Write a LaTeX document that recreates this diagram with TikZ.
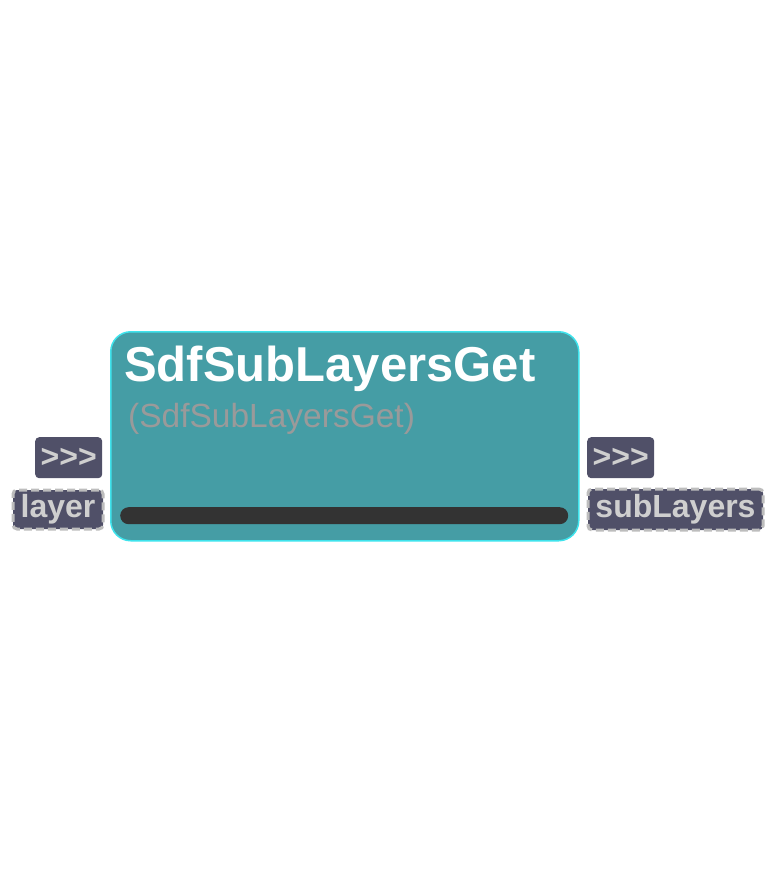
\documentclass[tikz,border=0pt]{standalone}
\usepackage{fontspec}
\setmainfont{Liberation Sans}
\usetikzlibrary{positioning}

\definecolor{nodeteal}{HTML}{459DA5}
\definecolor{nodeedge}{HTML}{3FE3EC}
\definecolor{pinfill}{HTML}{505068}
\definecolor{pintext}{HTML}{CFCFCF}
\definecolor{pinedge}{HTML}{BDBDBD}
\definecolor{subtext}{HTML}{9A9A9A}
\definecolor{barcolor}{HTML}{333333}

\begin{document}
\begin{tikzpicture}
[
	x=1pt, y=-1pt,
	nodebox/.style={draw=nodeedge,fill=nodeteal,line width=1.5pt,rounded corners=20pt,anchor=north west,inner sep=0pt},
	pinbox/.style={fill=pinfill,rounded corners=4pt,inner sep=0pt,anchor=north west,text=pintext,font=\bfseries\fontsize{32}{32}\selectfont},
	pinlabel/.style={pinbox,draw=pinedge,dash pattern=on 8pt off 4pt,line width=3pt},
]

	\useasboundingbox (0,0) rectangle (775,875);

	% node body
	\node[nodebox,minimum width=468pt,minimum height=209pt] (body) at (110,331) {};
	\node[anchor=base west,inner sep=0pt,text=white,font=\bfseries\fontsize{49}{49}\selectfont] (title) at (124,381) {SdfSubLayersGet};
	\node[anchor=base west,inner sep=0pt,text=subtext,font=\fontsize{33.5}{33.5}\selectfont] (subtitle) at (128,427) {(SdfSubLayersGet)};
	\node[fill=barcolor,rounded corners=8.5pt,anchor=north west,inner sep=0pt,minimum width=448pt,minimum height=17pt] (bar) at (120,507) {};

	% input pins
	\node[pinbox,minimum width=67pt,minimum height=41pt] (inexec) at (35,437) {>{}>{}>};
	\node[pinlabel,minimum width=90pt,minimum height=39pt] (layer) at (11.5,488.5) {layer};

	% output pins
	\node[pinbox,minimum width=67pt,minimum height=41pt] (outexec) at (587,437) {>{}>{}>};
	\node[pinlabel,minimum width=175pt,minimum height=41pt] (subLayers) at (586.5,487.5) {subLayers};

\end{tikzpicture}
\end{document}
